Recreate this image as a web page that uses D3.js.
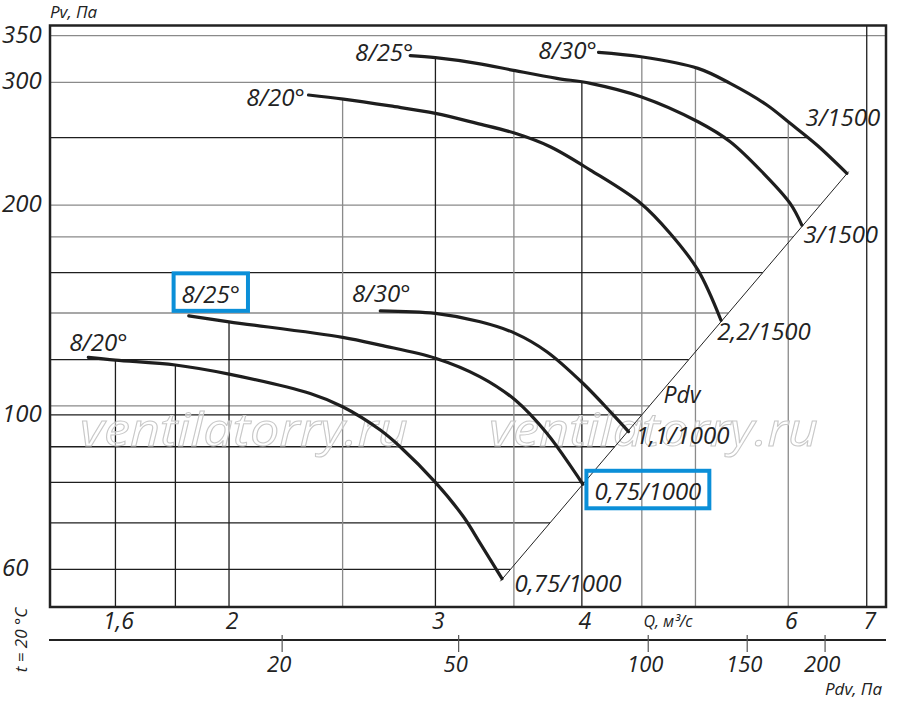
<!DOCTYPE html>
<html>
<head>
<meta charset="utf-8">
<script src="https://cdn.jsdelivr.net/npm/d3@7"></script>
<style>
  body { margin: 0; background: #fff; }
  text { font-family: "Open Sans", "Noto Sans", sans-serif; font-style: italic; fill: #222; }
</style>
</head>
<body>
<div id="chart"></div>
<script>
// values: Q in m3/s, Pv / Pdv in Pa
const curveNames = ["8/20°", "8/25°", "8/30°", "8/20°", "8/25°", "8/30°"];
const motorLabels = ["0,75/1000", "0,75/1000", "1,1/1000", "2,2/1500", "3/1500", "3/1500"];

const qLow20 = [1.517, 1.6, 1.8, 2.0, 2.346, 2.5, 2.692, 2.799, 3.0, 3.17, 3.276, 3.419];
const pLow20 = [120.9, 119.8, 117.9, 114.4, 107.3, 102.7, 95.1, 90.0, 80.0, 71.4, 65.4, 58.2];
const qLow25 = [1.848, 2.0, 2.5, 2.692, 3.0, 3.276, 3.509, 3.734, 3.934, 4.008];
const pLow25 = [138.7, 136.0, 129.2, 125.9, 120.6, 113.4, 105.0, 94.1, 83.3, 79.5];
const qLow30 = [2.692, 3.0, 3.276, 3.509, 3.734, 4.008, 4.256, 4.384];
const pLow30 = [141.0, 139.8, 136.0, 130.9, 123.2, 111.0, 99.9, 94.6];

const qHigh20 = [2.338, 2.504, 2.746, 3.0, 3.255, 3.509, 3.759, 4.067, 4.492, 4.758, 5.025, 5.257];
const pHigh20 = [287.7, 283.9, 277.5, 270.8, 262.0, 253.5, 242.5, 224.5, 201.1, 182.1, 161.3, 136.7];
const qHigh25 = [2.855, 3.0, 3.255, 3.509, 3.808, 4.067, 4.492, 5.025, 5.353, 5.715, 6.022, 6.162];
const pHigh25 = [327.6, 325.5, 319.5, 311.8, 304.0, 299.0, 286.1, 263.4, 246.6, 222.1, 201.1, 187.2];
const qHigh30 = [4.133, 4.492, 5.025, 5.353, 5.753, 6.022, 6.347, 6.732];
const pHigh30 = [331.3, 326.5, 314.2, 299.0, 278.4, 262.0, 243.9, 222.1];

// Pdv line end points
const pdvLineQ = [3.408, 6.756];
const pdvLineP = [57.7, 223.4];

const yTicks = [60, 100, 200, 300, 350];
const xTicks = [1.6, 2, 3, 4, 6, 7];
const xTickLabels = ["1,6", "2", "3", "4", "6", "7"];
const pdvTicks = [20, 50, 100, 150, 200];
const pdvTickQ = [2.22, 3.14, 4.557, 5.535, 6.45];
const hGrid = [60, 70, 80, 90, 100, 103, 120, 140, 160, 180, 200, 250, 300, 350];
const vGrid = [1.6, 1.8, 2, 2.5, 3, 3.5, 4, 4.5, 5, 6, 7];

const W = 900, H = 701;
const plotL = 50, plotR = 886, plotT = 25.5, plotB = 607;

const svg = d3.select("#chart").append("svg")
  .attr("width", W)
  .attr("height", H);

const x = d3.scaleLog().domain([1.407, 7.27]).range([plotL, plotR]);
const y = d3.scaleLog().domain([53, 362]).range([plotB, plotT]);

const curves = [
  { q: qLow20, p: pLow20 }, { q: qLow25, p: pLow25 }, { q: qLow30, p: pLow30 },
  { q: qHigh20, p: pHigh20 }, { q: qHigh25, p: pHigh25 }, { q: qHigh30, p: pHigh30 }
].map((c, i) => ({ ...c, name: curveNames[i], motor: motorLabels[i],
  pts: c.q.map((q, j) => [q, c.p[j]]) }));

// label placement (offsets in px from curve start / end), boxed labels
const layout = [
  { nameDx: 10, nameDy: -6, motorDx: 66, motorDy: 13, boxName: false, boxMotor: false },
  { nameDx: 22, nameDy: -13, motorDx: 65, motorDy: 16, boxName: true, boxMotor: true },
  { nameDx: 1, nameDy: -9, motorDx: 54, motorDy: 12, boxName: false, boxMotor: false },
  { nameDx: -33, nameDy: 11, motorDx: 43, motorDy: 20, boxName: false, boxMotor: false },
  { nameDx: -26, nameDy: 5, motorDx: 39, motorDy: 18, boxName: false, boxMotor: false },
  { nameDx: -31, nameDy: 7, motorDx: -4, motorDy: -47, boxName: false, boxMotor: false }
];

const L = Math.log;

function pAt(c, q) {
  if (q < c.q[0] || q > c.q[c.q.length - 1]) return null;
  for (let i = 0; i < c.q.length - 1; i++) {
    if (q >= c.q[i] && q <= c.q[i + 1]) {
      const t = (L(q) - L(c.q[i])) / (L(c.q[i + 1]) - L(c.q[i]));
      return Math.exp(L(c.p[i]) + t * (L(c.p[i + 1]) - L(c.p[i])));
    }
  }
  return null;
}

function qAt(c, p) {
  let best = null;
  for (let i = 0; i < c.p.length - 1; i++) {
    if (p <= c.p[i] && p >= c.p[i + 1]) {
      const t = (L(p) - L(c.p[i])) / (L(c.p[i + 1]) - L(c.p[i]));
      best = Math.exp(L(c.q[i]) + t * (L(c.q[i + 1]) - L(c.q[i])));
    }
  }
  return best;
}

function diagQ(p) {
  const t = (L(p) - L(pdvLineP[0])) / (L(pdvLineP[1]) - L(pdvLineP[0]));
  return Math.exp(L(pdvLineQ[0]) + t * (L(pdvLineQ[1]) - L(pdvLineQ[0])));
}

// horizontal grid stops at the Pdv line or the outer curve
function xRight(p) {
  if (p >= pdvLineP[0] && p <= pdvLineP[1]) return x(diagQ(p));
  const qs = curves.map(c => qAt(c, p)).filter(v => v != null);
  return qs.length ? x(d3.max(qs)) : plotR;
}

// vertical grid starts at the highest curve
function yTop(q) {
  const ps = curves.map(c => pAt(c, q)).filter(v => v != null);
  return ps.length ? y(d3.max(ps)) : plotT;
}

const darkH = new Set([60, 70, 80, 90, 100, 120, 160, 250]);
const darkV = new Set([1.6, 1.8, 2, 3, 4, 7]);

const grid = svg.append("g");
grid.selectAll("line.h")
  .data(hGrid)
  .enter().append("line")
  .attr("class", "h")
  .attr("x1", plotL).attr("x2", d => xRight(d))
  .attr("y1", d => y(d)).attr("y2", d => y(d))
  .attr("stroke", d => darkH.has(d) ? "#1e1e1e" : "#8a8a8a")
  .attr("stroke-width", 1.3);

grid.selectAll("line.v")
  .data(vGrid)
  .enter().append("line")
  .attr("class", "v")
  .attr("x1", d => x(d)).attr("x2", d => x(d))
  .attr("y1", d => yTop(d)).attr("y2", plotB)
  .attr("stroke", d => darkV.has(d) ? "#1e1e1e" : "#8a8a8a")
  .attr("stroke-width", 1.3);

// watermark
[[80, 408], [489, 818]].forEach(([a, b]) => {
  svg.append("text")
    .attr("x", a).attr("y", 446)
    .attr("textLength", b - a)
    .attr("lengthAdjust", "spacingAndGlyphs")
    .style("font-size", "46px")
    .style("fill", "rgba(255,255,255,0.55)")
    .style("stroke", "#c8c8c8")
    .style("stroke-width", 1)
    .text("ventilatorry.ru");
});

// frame
svg.append("rect")
  .attr("x", plotL).attr("y", plotT)
  .attr("width", plotR - plotL).attr("height", plotB - plotT)
  .attr("fill", "none")
  .attr("stroke", "#222")
  .attr("stroke-width", 2.5);

// Pdv line
svg.append("line")
  .attr("x1", x(pdvLineQ[0])).attr("y1", y(pdvLineP[0]))
  .attr("x2", x(pdvLineQ[1])).attr("y2", y(pdvLineP[1]))
  .attr("stroke", "#222")
  .attr("stroke-width", 1);

const pdvAt = [x(diagQ(100)), y(100)];
svg.append("text")
  .attr("x", pdvAt[0] + 40).attr("y", pdvAt[1] - 12)
  .attr("text-anchor", "middle")
  .style("font-size", "23px")
  .text("Pdv");

// curves
const line = d3.line()
  .x(d => x(d[0]))
  .y(d => y(d[1]))
  .curve(d3.curveCatmullRom.alpha(0.5));

svg.selectAll("path.curve")
  .data(curves)
  .enter().append("path")
  .attr("class", "curve")
  .attr("d", d => line(d.pts))
  .attr("fill", "none")
  .attr("stroke", "#1e1e1e")
  .attr("stroke-width", 3.2)
  .attr("stroke-linecap", "round");

function boxed(t) {
  const b = t.node().getBBox();
  const base = +t.attr("y");
  svg.append("rect")
    .attr("x", b.x - 8).attr("y", base - 29.5)
    .attr("width", b.width + 16).attr("height", 37.5)
    .attr("fill", "none")
    .attr("stroke", "#0b8fd8")
    .attr("stroke-width", 4);
}

curves.forEach((c, i) => {
  const lo = layout[i];
  const s = c.pts[0], e = c.pts[c.pts.length - 1];
  const tn = svg.append("text")
    .attr("x", x(s[0]) + lo.nameDx).attr("y", y(s[1]) + lo.nameDy)
    .attr("text-anchor", "middle")
    .style("font-size", "24px")
    .text(c.name);
  const tm = svg.append("text")
    .attr("x", x(e[0]) + lo.motorDx).attr("y", y(e[1]) + lo.motorDy)
    .attr("text-anchor", "middle")
    .style("font-size", "24px")
    .text(c.motor);
  if (lo.boxName) boxed(tn);
  if (lo.boxMotor) boxed(tm);
});

// y axis labels
svg.selectAll("text.ytick")
  .data(yTicks)
  .enter().append("text")
  .attr("class", "ytick")
  .attr("x", 2).attr("y", d => y(d) + 7)
  .style("font-size", "24px")
  .text(d => d);

svg.append("text")
  .attr("x", plotL).attr("y", 18)
  .style("font-size", "17px")
  .text("Pv, Па");

// Q axis labels
svg.selectAll("text.xtick")
  .data(xTicks)
  .enter().append("text")
  .attr("class", "xtick")
  .attr("x", d => x(d) + 3).attr("y", 629)
  .attr("text-anchor", "middle")
  .style("font-size", "23px")
  .text((d, i) => xTickLabels[i]);

svg.append("text")
  .attr("x", 668).attr("y", 627)
  .attr("text-anchor", "middle")
  .style("font-size", "16px")
  .text("Q, м³/с");

// Pdv axis
svg.append("line")
  .attr("x1", plotL - 1).attr("x2", plotR)
  .attr("y1", 640).attr("y2", 640)
  .attr("stroke", "#222")
  .attr("stroke-width", 2);

svg.selectAll("line.ptick")
  .data(pdvTicks)
  .enter().append("line")
  .attr("class", "ptick")
  .attr("x1", (d, i) => x(pdvTickQ[i])).attr("x2", (d, i) => x(pdvTickQ[i]))
  .attr("y1", 635).attr("y2", 652)
  .attr("stroke", "#555")
  .attr("stroke-width", 1.2);

svg.selectAll("text.ptick")
  .data(pdvTicks)
  .enter().append("text")
  .attr("class", "ptick")
  .attr("x", (d, i) => x(pdvTickQ[i]) - 3).attr("y", 672)
  .attr("text-anchor", "middle")
  .style("font-size", "22px")
  .text(d => d);

svg.append("text")
  .attr("x", 882).attr("y", 695)
  .attr("text-anchor", "end")
  .style("font-size", "17px")
  .text("Pdv, Па");

svg.append("text")
  .attr("transform", "translate(27,640) rotate(-90)")
  .attr("text-anchor", "middle")
  .style("font-size", "17px")
  .text("t = 20 °C");
</script>
</body>
</html>
